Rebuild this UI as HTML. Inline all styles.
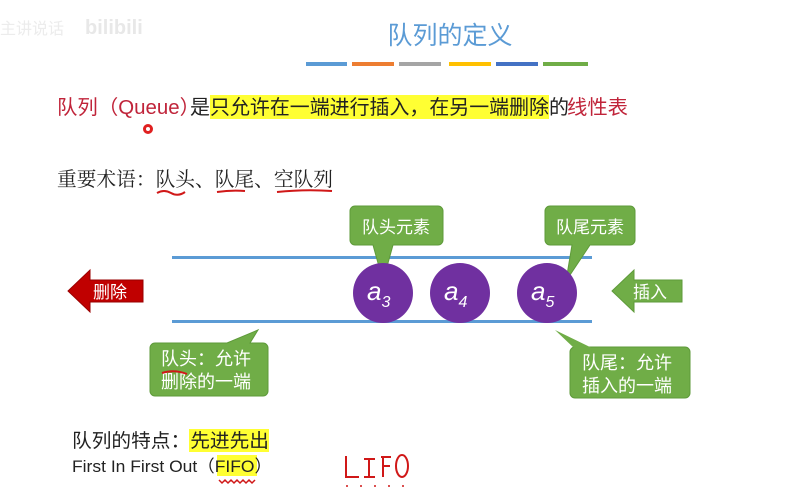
<!DOCTYPE html>
<html><head><meta charset="utf-8"><style>
html,body{margin:0;padding:0;background:#fff;width:787px;height:503px;overflow:hidden}
svg{display:block}
text{font-family:"Liberation Sans","Noto Sans CJK SC",sans-serif}
.s{font-family:"Noto Serif CJK SC","Liberation Serif",serif}
</style></head><body>
<svg width="787" height="503" viewBox="0 0 787 503">
<text x="0" y="34" font-size="16" fill="#ececec">主讲说话</text>
<text x="85" y="34" font-size="20" font-weight="bold" fill="#e8e8e8">bilibili</text>
<text x="450" y="44" font-size="25" fill="#5b9bd5" text-anchor="middle">队列的定义</text>
<rect x="306" y="62" width="41" height="4" fill="#5b9bd5"/>
<rect x="352" y="62" width="42" height="4" fill="#ed7d31"/>
<rect x="399" y="62" width="42" height="4" fill="#a5a5a5"/>
<rect x="449" y="62" width="42" height="4" fill="#ffc000"/>
<rect x="496" y="62" width="42" height="4" fill="#4472c4"/>
<rect x="543" y="62" width="45" height="4" fill="#70ad47"/>
<rect x="210" y="95" width="339" height="24" fill="#ffff33"/>
<g font-size="20">
<text x="57" y="114" fill="#c0243a" textLength="143" lengthAdjust="spacingAndGlyphs">队列（Queue）</text>
<text x="190" y="114" fill="#222">是</text>
<text x="210" y="114" fill="#222" textLength="339" lengthAdjust="spacingAndGlyphs">只允许在一端进行插入，在另一端删除</text>
<text x="549" y="114" fill="#222">的</text>
<text x="567" y="114" fill="#c0243a" textLength="61" lengthAdjust="spacingAndGlyphs">线性表</text>
</g>
<circle cx="148" cy="129" r="5" fill="#e02020"/><circle cx="148" cy="129" r="2" fill="#fff"/>
<text x="57" y="186" font-size="20" fill="#222" class="s" textLength="276" lengthAdjust="spacingAndGlyphs">重要术语：队头、队尾、空队列</text>
<path d="M157 193 q7 -4 14 0 q7 4 14 -1" stroke="#d01818" stroke-width="2" fill="none"/>
<path d="M217 192 q14 -2 28 -1" stroke="#d01818" stroke-width="2" fill="none"/>
<path d="M277 192 q28 -3 55 -1" stroke="#d01818" stroke-width="2" fill="none"/>
<rect x="172" y="256" width="420" height="3" fill="#5b9bd5"/>
<rect x="172" y="320" width="420" height="3" fill="#5b9bd5"/>
<path d="M355 206 h83 a5 5 0 0 1 5 5 v29 a5 5 0 0 1 -5 5 h-45 l-10 36 l-10 -36 h-18 a5 5 0 0 1 -5 -5 v-29 a5 5 0 0 1 5 -5z" fill="#70ad47" stroke="#5e9a3a"/>
<text x="396" y="233" font-size="17" fill="#fff" text-anchor="middle">队头元素</text>
<path d="M550 206 h80 a5 5 0 0 1 5 5 v29 a5 5 0 0 1 -5 5 h-40 l-24 36 l6 -36 h-22 a5 5 0 0 1 -5 -5 v-29 a5 5 0 0 1 5 -5z" fill="#70ad47" stroke="#5e9a3a"/>
<text x="590" y="233" font-size="17" fill="#fff" text-anchor="middle">队尾元素</text>
<g fill="#7030a0"><ellipse cx="383" cy="293" rx="30" ry="30"/><ellipse cx="460" cy="293" rx="30" ry="30"/><ellipse cx="547" cy="293" rx="30" ry="30"/></g>
<g fill="#fff" font-size="26" font-style="italic">
<text x="367" y="300">a<tspan font-size="16" dy="7">3</tspan></text>
<text x="444" y="300">a<tspan font-size="16" dy="7">4</tspan></text>
<text x="531" y="300">a<tspan font-size="16" dy="7">5</tspan></text></g>
<path d="M68 291 l22 -21 v10 h53 v22 h-53 v10z" fill="#c00000" stroke="#900"/>
<text x="93" y="298" font-size="17" fill="#fff">删除</text>
<path d="M612 291 l22 -21 v10 h48 v22 h-48 v10z" fill="#70ad47" stroke="#5e9a3a"/>
<text x="633" y="298" font-size="17" fill="#fff">插入</text>
<path d="M155 343 h72 l31 -13 l-8 13 h13 a5 5 0 0 1 5 5 v43 a5 5 0 0 1 -5 5 h-108 a5 5 0 0 1 -5 -5 v-43 a5 5 0 0 1 5 -5z" fill="#70ad47" stroke="#5e9a3a"/>
<text x="161" y="365" font-size="18" fill="#fff">队头：允许</text>
<text x="161" y="388" font-size="18" fill="#fff">删除的一端</text>
<path d="M162 373 q12 -4 25 1" stroke="#d01818" stroke-width="2" fill="none"/>
<path d="M575 347 h110 a5 5 0 0 1 5 5 v41 a5 5 0 0 1 -5 5 h-110 a5 5 0 0 1 -5 -5 v-41 a5 5 0 0 1 5 -5z" fill="#70ad47" stroke="#5e9a3a"/>
<path d="M555 330 l37 18 h-18z" fill="#70ad47"/>
<text x="582" y="369" font-size="18" fill="#fff">队尾：允许</text>
<text x="582" y="392" font-size="18" fill="#fff">插入的一端</text>
<rect x="189" y="429" width="80" height="23" fill="#ffff33"/>
<text x="72" y="447" font-size="19" fill="#222" textLength="197" lengthAdjust="spacingAndGlyphs">队列的特点：先进先出</text>
<rect x="217" y="455" width="40" height="21" fill="#ffff33"/>
<text x="72" y="472" font-size="17" fill="#222" textLength="200" lengthAdjust="spacingAndGlyphs">First In First Out（FIFO）</text>
<path d="M219 480 l3 3 l3 -3 l3 3 l3 -3 l3 3 l3 -3 l3 3 l3 -3 l3 3 l3 -3 l3 3 l3 -3" stroke="#d01818" stroke-width="1.5" fill="none"/>
<g stroke="#d01818" stroke-width="2" fill="none">
<path d="M346 456 v21 h13"/><path d="M364 459 h11 M369 459 v18 M364 477 h11"/>
<path d="M381 457 h10 M383 457 v20 M382 466 h8"/><ellipse cx="402" cy="466" rx="6" ry="11"/></g>
<g fill="#d01818"><circle cx="347" cy="486" r="1"/><circle cx="361" cy="486" r="1"/><circle cx="375" cy="486" r="1"/><circle cx="389" cy="486" r="1"/><circle cx="403" cy="486" r="1"/></g>
</svg>
</body></html>
